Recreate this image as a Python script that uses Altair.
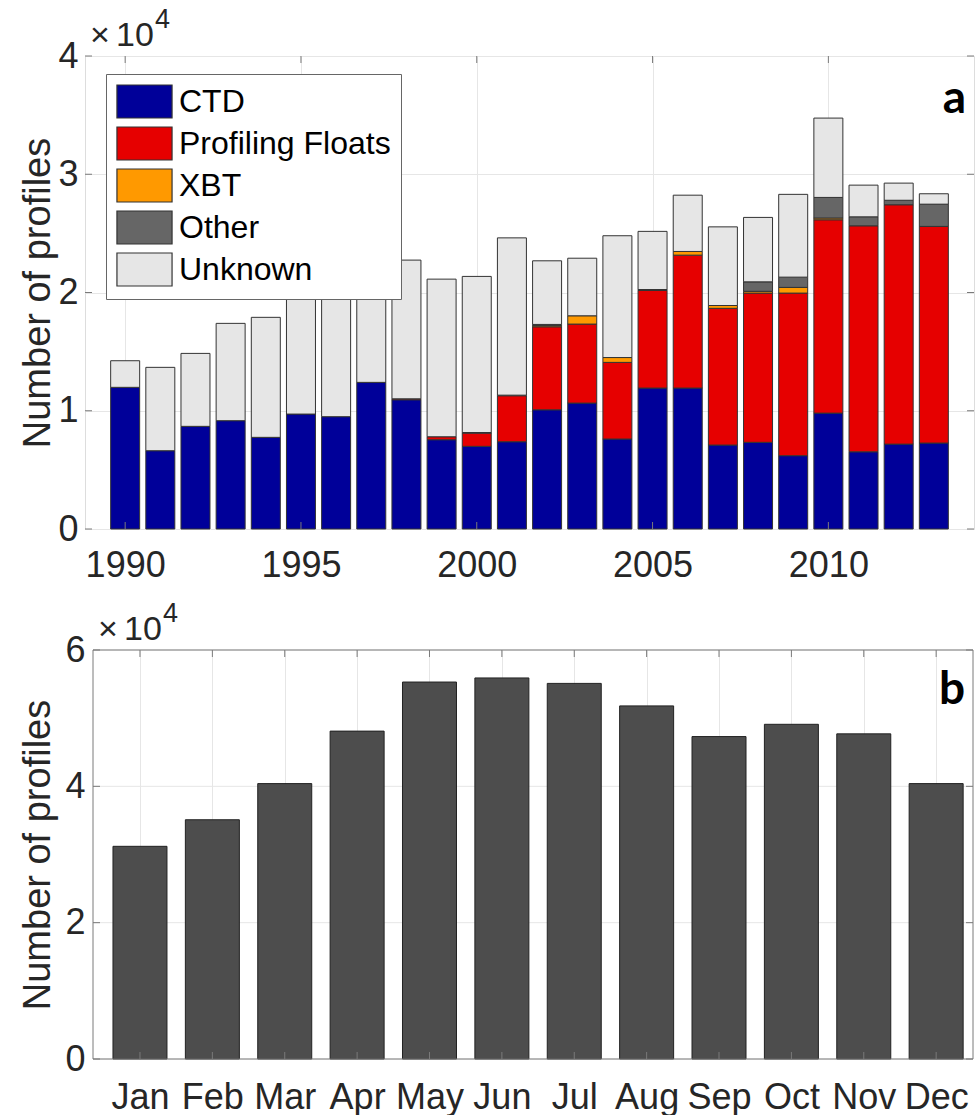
import json

import altair as alt
import pandas as pd

# ---- panel a: profiles per year, split by instrument type ----
years = [1990, 1991, 1992, 1993, 1994, 1995, 1996, 1997, 1998, 1999, 2000, 2001,
         2002, 2003, 2004, 2005, 2006, 2007, 2008, 2009, 2010, 2011, 2012, 2013]
ctd = [11980, 6620, 8680, 9160, 7750, 9720, 9500, 12400, 10930, 7550, 6990, 7380,
       10080, 10650, 7610, 11920, 11920, 7100, 7330, 6200, 9800, 6530, 7180, 7270]
floats = [0, 0, 0, 0, 0, 0, 0, 0, 80, 250, 1120, 3890,
          7020, 6680, 6480, 8250, 11240, 11560, 12620, 13750, 16350, 19110, 20240, 18320]
xbt = [0, 0, 0, 0, 0, 0, 0, 0, 0, 0, 0, 0,
       100, 700, 410, 0, 310, 240, 150, 480, 150, 0, 0, 0]
other = [0, 0, 0, 0, 0, 0, 0, 0, 0, 0, 50, 50,
         100, 0, 0, 80, 0, 0, 800, 870, 1740, 760, 380, 1880]
unknown = [2250, 7050, 6170, 8230, 10150, 9880, 11300, 9700, 11730, 13330, 13200, 13300,
           5380, 4870, 10300, 4920, 4760, 6650, 5450, 7000, 6710, 2680, 1450, 880]

sources = ["CTD", "Profiling Floats", "XBT", "Other", "Unknown"]
source_colors = ["#000099", "#e60000", "#ff9900", "#666666", "#e6e6e6"]
year_ticks = [1990, 1995, 2000, 2005, 2010]
year_count_ticks = [0, 10000, 20000, 30000, 40000]

# ---- panel b: profiles per calendar month ----
month_names = ["Jan", "Feb", "Mar", "Apr", "May", "Jun",
               "Jul", "Aug", "Sep", "Oct", "Nov", "Dec"]
month_counts = [31200, 35100, 40400, 48100, 55300, 55900,
                55100, 51800, 47300, 49100, 47700, 40400]
month_count_ticks = [0, 20000, 40000, 60000]

FONT = "Liberation Sans"
LETTER_FONT = "Lato"
TEXT = "#262626"
AXIS_GREY = "#7a7a7a"
GRID = "#e6e6e6"
TICK = 7
LABEL_SIZE = 36
TITLE_SIZE = 38

W1, H1 = 889, 473
# panel b's frame sits a little to the right of panel a's, inside a wider view
INSET = 8
W2, H2 = 880, 409

rows = []
series = [ctd, floats, xbt, other, unknown]
for i, y in enumerate(years):
    for rank, (name, vals) in enumerate(zip(sources, series)):
        if vals[i] > 0:
            rows.append({"year": y, "source": name, "rank": rank, "count": vals[i]})
yearly = pd.DataFrame(rows)
monthly = pd.DataFrame({"month": list(range(1, 13)), "name": month_names, "count": month_counts})


def inward_ticks(xvals, yvals, xscale, yscale, x0, w, h):
    """Short tick marks on all four sides, pointing into the plot."""
    xt = pd.DataFrame({"t": xvals})
    yt = pd.DataFrame({"t": yvals})
    rule = dict(color=AXIS_GREY, strokeWidth=1)
    top = alt.Chart(xt).mark_rule(**rule).encode(
        x=alt.X("t:Q", scale=xscale, axis=None), y=alt.value(0), y2=alt.value(TICK))
    bottom = alt.Chart(xt).mark_rule(**rule).encode(
        x=alt.X("t:Q", scale=xscale, axis=None), y=alt.value(h - TICK), y2=alt.value(h))
    left = alt.Chart(yt).mark_rule(**rule).encode(
        y=alt.Y("t:Q", scale=yscale, axis=None), x=alt.value(x0), x2=alt.value(x0 + TICK))
    right = alt.Chart(yt).mark_rule(**rule).encode(
        y=alt.Y("t:Q", scale=yscale, axis=None), x=alt.value(x0 + w - TICK),
        x2=alt.value(x0 + w))
    return [top, bottom, left, right]


def exponent_label(x0):
    """The x10^4 multiplier printed above the y axis."""
    parts = [("\u00d7", 34, 5, -10), ("10", 34, 31, -10), ("4", 27, 70, -28)]
    layers = []
    for s, size, dx, dy in parts:
        layers.append(alt.Chart(pd.DataFrame({"s": [s]})).mark_text(
            font=FONT, fontSize=size, color=TEXT, align="left", baseline="alphabetic"
        ).encode(text="s:N", x=alt.value(x0 + dx), y=alt.value(dy)))
    return layers


def panel_letter(letter, right, baseline):
    return alt.Chart(pd.DataFrame({"s": [letter]})).mark_text(
        font=LETTER_FONT, fontSize=46, fontWeight="bold", color="black",
        align="right", baseline="alphabetic"
    ).encode(text="s:N", x=alt.value(right - 8), y=alt.value(baseline))


def count_axis(ticks, label_pad, title_pad, grid):
    return alt.Axis(values=ticks, labelExpr="datum.value / 10000",
                    title="Number of profiles", ticks=False, domain=False,
                    grid=grid, gridColor=GRID, labelFontSize=LABEL_SIZE,
                    labelPadding=label_pad, titleFontSize=TITLE_SIZE,
                    titlePadding=title_pad, labelColor=TEXT, titleColor=TEXT,
                    titleFontWeight="normal")


# ---- panel a ----
xs1 = alt.Scale(domain=[1989, 2014], nice=False, zero=False)
ys1 = alt.Scale(domain=[0, 40000], nice=False)

bars1 = alt.Chart(yearly).mark_bar(size=29, stroke="#333333", strokeWidth=1).encode(
    x=alt.X("year:Q", scale=xs1,
            axis=alt.Axis(values=year_ticks, format="d", title=None, ticks=False,
                          domain=False, grid=True, gridColor=GRID,
                          labelFontSize=LABEL_SIZE, labelPadding=19, labelColor=TEXT)),
    y=alt.Y("count:Q", stack="zero", scale=ys1,
            axis=count_axis(year_count_ticks, 7, 0, True)),
    color=alt.Color("source:N", scale=alt.Scale(domain=sources, range=source_colors),
                    legend=alt.Legend(title=None, orient="none", legendX=21, legendY=18,
                                      symbolType="M-1.67,-1H1.67V1H-1.67Z", symbolSize=1089,
                                      symbolOffset=11,
                                      symbolStrokeColor="#333333", symbolStrokeWidth=1.2,
                                      symbolOpacity=1, labelFont=FONT, labelFontSize=32,
                                      labelColor="black", labelOffset=17, labelLimit=0,
                                      padding=10, rowPadding=3, fillColor="white",
                                      strokeColor="#666666")),
    order=alt.Order("rank:Q"),
)

panel_a = alt.layer(
    bars1,
    *inward_ticks(year_ticks, year_count_ticks, xs1, ys1, 0, W1, H1),
    *exponent_label(0),
    panel_letter("a", W1, 57),
).resolve_axis(x="independent", y="independent").properties(width=W1, height=H1)

# ---- panel b ----
xs2 = alt.Scale(domain=[0.42, 12.44], nice=False, zero=False, range=[INSET, INSET + W2])
ys2 = alt.Scale(domain=[0, 60000], nice=False)
month_ticks = list(range(1, 13))

frame_b = alt.Chart(pd.DataFrame({"f": [0]})).mark_rect(
    fillOpacity=0, stroke=AXIS_GREY, strokeWidth=1
).encode(x=alt.value(INSET), x2=alt.value(INSET + W2), y=alt.value(0), y2=alt.value(H2))

grid_b = alt.Chart(pd.DataFrame({"t": month_count_ticks})).mark_rule(
    color=GRID, strokeWidth=1
).encode(y=alt.Y("t:Q", scale=ys2, axis=None), x=alt.value(INSET), x2=alt.value(INSET + W2))

bars2 = alt.Chart(monthly).mark_bar(size=54, color="#4d4d4d", stroke="#222222",
                                    strokeWidth=1).encode(
    x=alt.X("month:Q", scale=xs2,
            axis=alt.Axis(values=month_ticks,
                          labelExpr=json.dumps(month_names) + "[datum.value - 1]",
                          title=None, ticks=False, domain=False, grid=True,
                          gridColor=GRID, labelFontSize=LABEL_SIZE, labelPadding=21,
                          labelColor=TEXT)),
    y=alt.Y("count:Q", scale=ys2, axis=count_axis(month_count_ticks, 0, 7, False)),
)

panel_b = alt.layer(
    grid_b,
    bars2,
    *inward_ticks(month_ticks, month_count_ticks, xs2, ys2, INSET, W2, H2),
    frame_b,
    *exponent_label(INSET),
    panel_letter("b", INSET + W2, 54),
).resolve_axis(x="independent", y="independent").properties(
    width=INSET + W2, height=H2, view=alt.ViewBackground(stroke=None)
)

chart = alt.vconcat(panel_a, panel_b, spacing=16).properties(
    padding={"left": 19, "top": 5, "right": 0, "bottom": 0}
).configure_view(stroke=AXIS_GREY, strokeWidth=1).configure(background="white")

chart.save("out.html", embed_options={"renderer": "svg", "actions": False})
